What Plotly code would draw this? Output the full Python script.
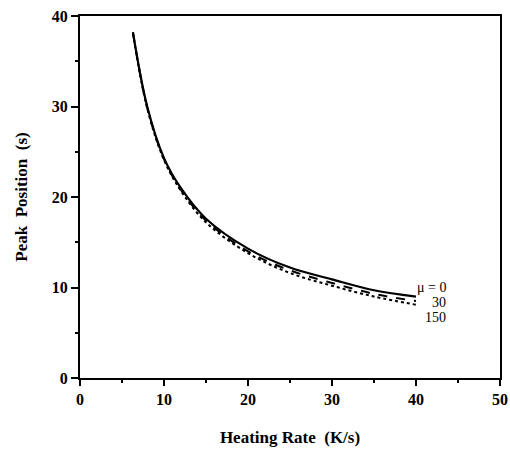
import plotly.graph_objects as go

heating_rate = [6.3, 8, 10, 12, 15, 20, 25, 30, 35, 40]
peak_mu0 = [38.2, 30.0, 24.3, 21.0, 17.6, 14.3, 12.2, 10.9, 9.7, 9.0]
peak_mu30 = [38.2, 29.9, 24.2, 20.8, 17.4, 14.0, 11.9, 10.5, 9.3, 8.5]
peak_mu150 = [38.1, 29.8, 24.1, 20.7, 17.2, 13.8, 11.6, 10.2, 9.0, 8.1]
labels = ["\u03bc = 0", "30", "150"]
label_y = [10.0, 8.35, 6.7]

fig = go.Figure()
fig.add_trace(go.Scatter(x=heating_rate, y=peak_mu0, mode="lines", line=dict(color="black", width=2.2, shape="spline"), name="0"))
fig.add_trace(go.Scatter(x=heating_rate, y=peak_mu30, mode="lines", line=dict(color="black", width=2, dash="dash", shape="spline"), name="30"))
fig.add_trace(go.Scatter(x=heating_rate, y=peak_mu150, mode="lines", line=dict(color="black", width=2, dash="dot", shape="spline"), name="150"))

for t, yy in zip(labels, label_y):
    fig.add_annotation(x=43.8, y=yy, text=t, showarrow=False, xanchor="right", yanchor="middle",
                       font=dict(family="Liberation Serif", size=14, color="black"))

axis_common = dict(showgrid=False, zeroline=False, showline=True, linecolor="black", linewidth=2,
                   mirror=True, ticks="outside", tickcolor="black", tickwidth=2,
                   ticklabeloverflow="allow",
                   tickfont=dict(family="Liberation Serif", size=16, color="black", weight="bold"))

fig.update_xaxes(range=[0, 50], dtick=10, ticklen=6,
                 minor=dict(ticks="outside", dtick=5, ticklen=3, tickcolor="black", tickwidth=2),
                 title=dict(text="<b>Heating Rate  (K/s)</b>", font=dict(family="Liberation Serif", size=17, color="black"), standoff=24),
                 **axis_common)
fig.update_yaxes(range=[0, 40], dtick=10, ticklen=7,
                 minor=dict(ticks="outside", dtick=5, ticklen=3, tickcolor="black", tickwidth=2),
                 title=dict(text="<b>Peak  Position  (s)</b>", font=dict(family="Liberation Serif", size=17, color="black"), standoff=20),
                 **axis_common)

fig.update_layout(width=510, height=451, margin=dict(l=80, r=10, t=16, b=73, autoexpand=False),
                  plot_bgcolor="white", paper_bgcolor="white", showlegend=False)
fig.write_html("out.html", config={"displayModeBar": False},
               post_script="document.body.style.margin='0';document.body.style.overflow='hidden';")
